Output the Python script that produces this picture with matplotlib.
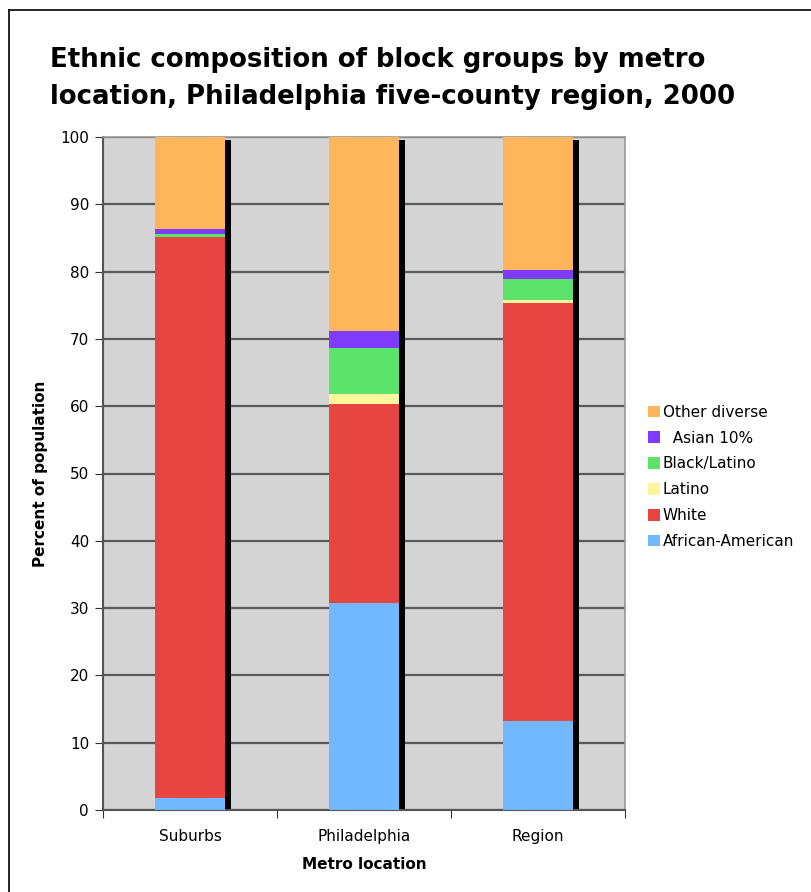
import numpy as np
import matplotlib
matplotlib.use("Agg")
import matplotlib.pyplot as plt
from matplotlib.lines import Line2D

# data (percent of population, stacked)
locations = ["Suburbs", "Philadelphia", "Region"]
series = ["African-American", "White", "Latino", "Black/Latino", "  Asian 10%", "Other diverse"]
african_american = [1.8, 30.8, 13.2]
white = [83.3, 29.5, 62.1]
latino = [0.1, 1.5, 0.5]
black_latino = [0.4, 6.8, 3.1]
asian = [0.7, 2.6, 1.3]
other_diverse = [13.7, 28.8, 19.8]
colors = ["#72B8FF", "#E64541", "#FFF59D", "#5CE36B", "#7E3BFB", "#FFB55A"]

values = [african_american, white, latino, black_latino, asian, other_diverse]

fig = plt.figure(figsize=(8.11, 8.92), dpi=100)
ax = fig.add_axes([103 / 811, 1 - 810 / 892, 522 / 811, 673 / 892])
ax.set_facecolor("#D4D4D4")

x = np.arange(len(locations))
width = 0.40
shadow_w = 0.034

# black drop shadow on the right side of each bar
ax.bar(x + width / 2 + shadow_w / 2, [99.6] * len(x), width=shadow_w,
       color="black", zorder=2)

bottom = np.zeros(len(locations))
handles = []
for name, vals, col in zip(series, values, colors):
    b = ax.bar(x, vals, width=width, bottom=bottom, color=col, label=name,
               zorder=3, linewidth=0)
    handles.append(b)
    bottom += np.array(vals)

ax.set_xlim(-0.5, 2.5)
ax.set_ylim(0, 100)
ax.set_yticks(range(0, 101, 10))
ax.yaxis.grid(True, color="#5a5a5a", linewidth=1.6, zorder=1)
ax.set_axisbelow(True)

ax.set_xticks([-0.5, 0.5, 1.5, 2.5])
ax.set_xticklabels([])
ax.set_xticks(x, minor=True)
ax.set_xticklabels(locations, minor=True, fontsize=11)
ax.tick_params(axis="x", which="minor", length=0, pad=14)
ax.tick_params(axis="x", which="major", length=6, color="#333333", direction="out")
ax.tick_params(axis="y", length=6, color="#333333", labelsize=11, pad=4)

for side in ["top", "right"]:
    ax.spines[side].set_color("#999999")
    ax.spines[side].set_linewidth(1.2)
for side in ["left", "bottom"]:
    ax.spines[side].set_color("#555555")
    ax.spines[side].set_linewidth(1.5)

ax.set_ylabel("Percent of population", fontsize=11, fontweight="bold", labelpad=9)
ax.set_xlabel("Metro location", fontsize=11, fontweight="bold", labelpad=9)

fig.text(50 / 811, 1 - 47 / 892,
         "Ethnic composition of block groups by metro\nlocation, Philadelphia five-county region, 2000",
         fontsize=18.7, fontweight="bold", va="top", ha="left", linespacing=1.55)

leg = fig.legend(handles[::-1], series[::-1], loc="upper left",
                 bbox_to_anchor=(637 / 811, 1 - 394 / 892), frameon=False,
                 fontsize=11, handlelength=0.8, handleheight=0.8,
                 handletextpad=0.2, labelspacing=0.71, borderpad=0.2)

# outer chart-area border (only left and top edges visible in the crop)
fig.add_artist(Line2D([9 / 811, 9 / 811], [0, 1 - 10 / 892], color="black",
                      linewidth=1.2, transform=fig.transFigure))
fig.add_artist(Line2D([9 / 811, 1], [1 - 10 / 892, 1 - 10 / 892], color="black",
                      linewidth=1.2, transform=fig.transFigure))

fig.savefig("out.png", dpi=100)
